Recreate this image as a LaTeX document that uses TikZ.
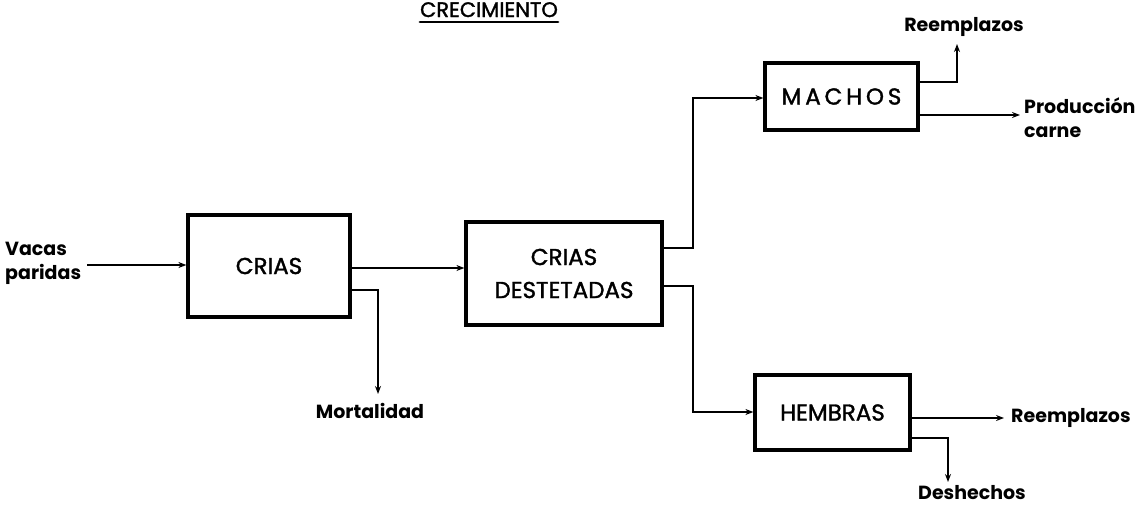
\documentclass[tikz,border=0pt]{standalone}
\usepackage{fontspec}
\setmainfont{Poppins}
\newfontfamily\boxfont{Poppins}[FakeBold=1.5]
\usetikzlibrary{arrows.meta}
\begin{document}
\begin{tikzpicture}[x=1pt,y=-1pt,
  boxst/.style={draw, line width=3.2pt, inner sep=0pt, font=\boxfont\fontsize{23}{27}\selectfont},
  lab/.style={font=\bfseries\fontsize{19}{24}\selectfont, inner sep=0pt},
  conn/.style={line width=2.2pt, -{Stealth[length=8pt,width=6pt]}}]
\clip (0,0) rectangle (1147,506);
\useasboundingbox (0,0) rectangle (1147,506);
% title
\node[anchor=base, inner sep=0pt, font=\boxfont\fontsize{21}{24}\selectfont] (title) at (489,17) {CRECIMIENTO};
\draw[line width=2.5pt, line cap=round] (title.base west |- 0,22) coordinate (ul1) -- (title.base east |- 0,22) coordinate (ul2);
% boxes
\node[boxst, minimum width=162pt, minimum height=102pt] (crias) at (269,266) {CRIAS};
\node[boxst, minimum width=196pt, minimum height=103pt, align=center] (dest) at (564,273.5) {CRIAS\\[6pt]DESTETADAS};
\node[boxst, minimum width=153pt, minimum height=67pt] (machos) at (841.5,96.5) {M\,A\,C\,H\,O\,S};
\node[boxst, minimum width=155pt, minimum height=75pt] (hembras) at (832.5,412.5) {HEMBRAS};
% labels
\node[lab, align=left, anchor=west] (vacas) at (5,263) {Vacas\\paridas};
\node[lab] (mort) at (370,411) {Mortalidad};
\node[lab] (reem1) at (964,27) {Reemplazos};
\node[lab, align=left, anchor=west] (prod) at (1024,118) {Producción\\carne};
\node[lab, anchor=west] (reem2) at (1011,418) {Reemplazos};
\node[lab] (desh) at (972,493) {Deshechos};
% coordinates
\coordinate (vin) at (87,265);
\coordinate (m1) at (378,290);
\coordinate (m2) at (378,394);
\coordinate (d1) at (693,248);
\coordinate (d2) at (693,98);
\coordinate (d3) at (693,286);
\coordinate (d4) at (693,412);
\coordinate (r1a) at (957,82);
\coordinate (r1b) at (957,44);
\coordinate (pc) at (1020,115);
\coordinate (r2) at (1004,418);
\coordinate (h1) at (948,438);
\coordinate (h2) at (948,482);
% connectors
\draw[conn] (vin) -- (vin -| crias.west);
\draw[conn] (crias.east |- 0,268) -- (dest.west |- 0,268);
\draw[conn] (crias.east |- m1) -- (m1) -- (m2);
\draw[conn] (dest.east |- d1) -- (d1) -- (d2) -- (machos.west |- d2);
\draw[conn] (dest.east |- d3) -- (d3) -- (d4) -- (hembras.west |- d4);
\draw[conn] (machos.east |- r1a) -- (r1a) -- (r1b);
\draw[conn] (machos.east |- pc) -- (pc);
\draw[conn] (hembras.east |- r2) -- (r2);
\draw[conn] (hembras.east |- h1) -- (h1) -- (h2);
\end{tikzpicture}
\end{document}
